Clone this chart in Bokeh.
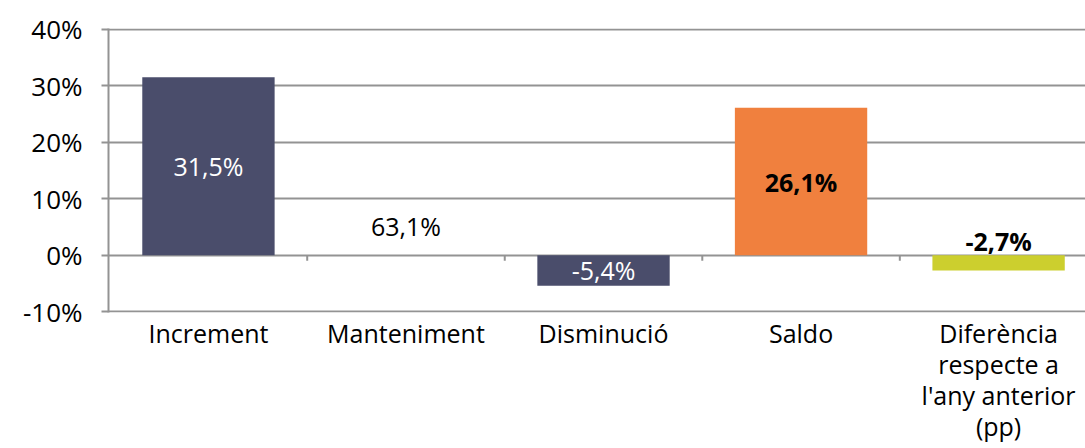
from bokeh.plotting import figure
from bokeh.models import ColumnDataSource, Range1d, FixedTicker, CustomJSTickFormatter
from bokeh.core.properties import value
from bokeh.embed import file_html
from bokeh.resources import INLINE

categories = ["Increment", "Manteniment", "Disminució", "Saldo",
              "Diferència\nrespecte a\nl'any anterior\n(pp)"]
values = [31.5, 63.1, -5.4, 26.1, -2.7]
bar_colors = ["#4A4D6B", "#4A4D6B", "#4A4D6B", "#F0803E", "#CCCF2E"]
bar_alpha = [1, 0, 1, 1, 1]
label_colors = ["white", "black", "white", "black", "black"]
label_styles = ["normal", "normal", "normal", "bold", "bold"]
label_pos = [31.5 / 2, 5.1, -5.4 / 2, 26.1 / 2, 2.5]
y_ticks = [-10, 0, 10, 20, 30, 40]

FONT = "Open Sans"
GRAY = "#939393"

x = list(range(len(categories)))
labels = [f"{v:.1f}".replace(".", ",") + "%" for v in values]

src = ColumnDataSource(dict(x=x, top=values, color=bar_colors, alpha=bar_alpha,
                            ly=label_pos, text=labels, tcolor=label_colors,
                            tstyle=label_styles))

p = figure(width=1085, height=448, output_backend="svg", toolbar_location=None,
           x_range=Range1d(-0.506, 4.44), y_range=Range1d(-10.15, 40.15),
           min_border_left=108, min_border_right=0, min_border_top=28,
           min_border_bottom=136)
p.outline_line_color = None
p.xgrid.grid_line_color = None
p.ygrid.ticker = FixedTicker(ticks=y_ticks)
p.ygrid.grid_line_color = GRAY
p.ygrid.grid_line_width = 2

p.vbar(x="x", top="top", bottom=0, width=0.67, fill_color="color",
       fill_alpha="alpha", line_color=None, source=src)

# category boundary ticks under the zero line
bounds = [i + 0.5 for i in range(len(categories) - 1)]
p.segment(x0=bounds, x1=bounds, y0=[0] * len(bounds), y1=[-1.0] * len(bounds),
          line_color=GRAY, line_width=2)

p.text(x="x", y="ly", text="text", text_color="tcolor", text_font_style="tstyle",
       text_font=value(FONT), text_font_size="25px", text_align="center",
       text_baseline="middle", source=src)

# y axis
p.yaxis.ticker = FixedTicker(ticks=y_ticks)
p.yaxis.formatter = CustomJSTickFormatter(code="return tick + '%';")
p.yaxis.axis_line_color = GRAY
p.yaxis.axis_line_width = 2
p.yaxis.major_tick_line_color = GRAY
p.yaxis.major_tick_line_width = 2
p.yaxis.major_tick_out = 7
p.yaxis.major_tick_in = 0
p.yaxis.minor_tick_line_color = None
p.yaxis.major_label_standoff = 19
p.yaxis.major_label_text_font = FONT
p.yaxis.major_label_text_font_size = "26px"
p.yaxis.major_label_text_color = "black"

# x axis
p.xaxis.ticker = FixedTicker(ticks=x)
p.xaxis.major_label_overrides = {i: c for i, c in zip(x, categories)}
p.xaxis.axis_line_color = None
p.xaxis.major_tick_line_color = None
p.xaxis.minor_tick_line_color = None
p.xaxis.major_tick_out = 0
p.xaxis.major_tick_in = 0
p.xaxis.major_label_standoff = 3
p.xaxis.major_label_text_font = FONT
p.xaxis.major_label_text_font_size = "25px"
p.xaxis.major_label_text_color = "black"
p.xaxis.major_label_text_line_height = 0.92

open("out.html", "w").write(file_html(p, INLINE))
